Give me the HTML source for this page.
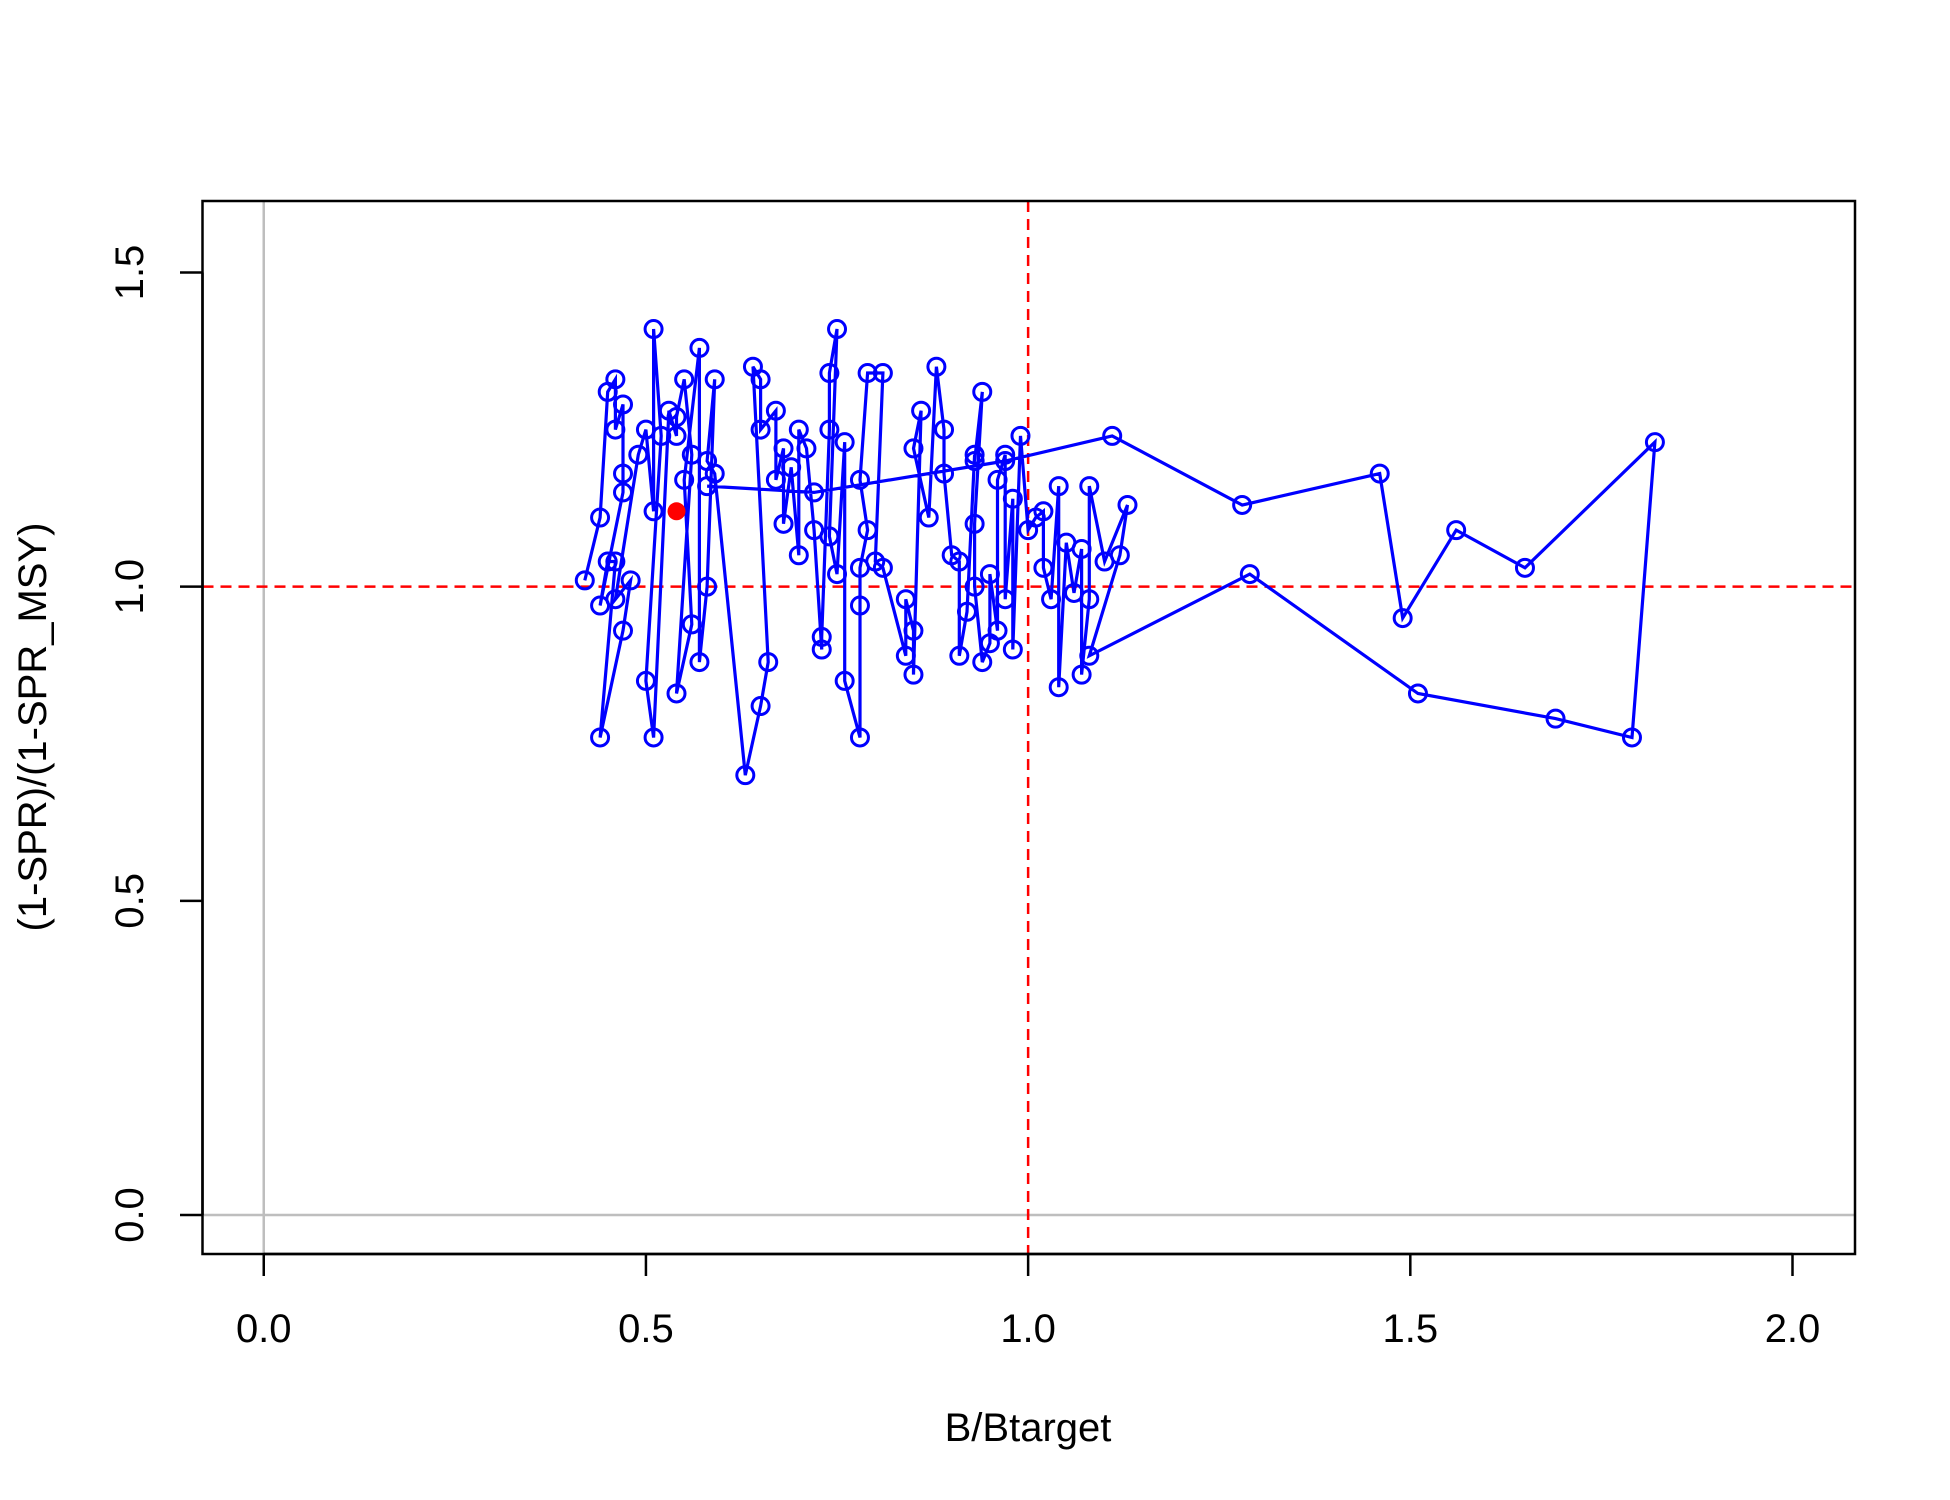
<!DOCTYPE html>
<html><head><meta charset="utf-8">
<style>html,body{margin:0;padding:0;background:#fff}svg{display:block}text{font-family:"Liberation Sans",Arial,sans-serif}</style>
</head><body>
<svg id="chart" width="1950" height="1500" viewBox="0 0 1950 1500" xmlns="http://www.w3.org/2000/svg">
<rect x="0" y="0" width="1950" height="1500" fill="#fff"/>
<g id="grid"></g>
<g id="series"></g>
<rect x="202.5" y="201" width="1652.5" height="1053" fill="none" stroke="#000" stroke-width="2.5"/>
<g id="axes"></g>
<text x="1028" y="1441" font-size="40" text-anchor="middle">B/Btarget</text>
<text x="0" y="0" font-size="40" text-anchor="middle" transform="translate(46,727) rotate(-90)">(1-SPR)/(1-SPR_MSY)</text>
</svg>
<script>
const xTicks=[0,0.5,1,1.5,2];
const xTickLabels=["0.0","0.5","1.0","1.5","2.0"];
const yTicks=[0,0.5,1,1.5];
const yTickLabels=["0.0","0.5","1.0","1.5"];
const bRatio=[0.42,0.44,0.45,0.46,0.46,0.47,0.47,0.47,0.44,0.45,0.46,0.44,0.47,0.48,0.46,0.49,0.50,0.51,0.51,0.52,0.50,0.51,0.53,0.54,0.54,0.55,0.56,0.54,0.56,0.55,0.57,0.57,0.58,0.59,0.58,0.59,0.63,0.65,0.66,0.64,0.65,0.65,0.67,0.67,0.68,0.68,0.69,0.70,0.70,0.71,0.72,0.73,0.73,0.74,0.74,0.75,0.74,0.75,0.76,0.76,0.78,0.78,0.78,0.79,0.78,0.79,0.81,0.80,0.81,0.84,0.84,0.85,0.85,0.86,0.85,0.87,0.88,0.89,0.89,0.90,0.91,0.91,0.92,0.93,0.93,0.94,0.93,0.93,0.94,0.95,0.95,0.96,0.96,0.97,0.97,0.98,0.98,0.99,1.00,1.01,1.02,1.02,1.03,1.04,1.04,1.05,1.06,1.07,1.07,1.08,1.08,1.10,1.13,1.12,1.08,1.29,1.51,1.69,1.79,1.82,1.65,1.56,1.49,1.46,1.28,1.11,0.97,0.72,0.58,0.54];
const sprRatio=[1.01,1.11,1.31,1.33,1.25,1.29,1.18,1.15,0.97,1.04,1.04,0.76,0.93,1.01,0.98,1.21,1.25,1.12,1.41,1.24,0.85,0.76,1.28,1.24,1.27,1.33,1.21,0.83,0.94,1.17,1.38,0.88,1.00,1.33,1.20,1.18,0.70,0.81,0.88,1.35,1.33,1.25,1.28,1.17,1.22,1.10,1.19,1.05,1.25,1.22,1.09,0.90,0.92,1.25,1.34,1.41,1.08,1.02,1.23,0.85,0.76,0.97,1.03,1.09,1.17,1.34,1.34,1.04,1.03,0.89,0.98,0.93,0.86,1.28,1.22,1.11,1.35,1.25,1.18,1.05,1.04,0.89,0.96,1.21,1.20,1.31,1.10,1.00,0.88,0.91,1.02,0.93,1.17,1.21,0.98,1.14,0.90,1.24,1.09,1.11,1.12,1.03,0.98,1.16,0.84,1.07,0.99,1.06,0.86,0.98,1.16,1.04,1.13,1.05,0.89,1.02,0.83,0.79,0.76,1.23,1.03,1.09,0.95,1.18,1.13,1.24,1.20,1.15,1.16,1.12];
const X0=263.75,XS=(1792.5-263.75)/2,Y0=1215,YS=(1215-272.5)/1.5;
const sx=v=>X0+v*XS, sy=v=>Y0-v*YS;
const NS="http://www.w3.org/2000/svg";
function mk(tag,attrs,parent){const e=document.createElementNS(NS,tag);for(const k in attrs)e.setAttribute(k,attrs[k]);parent.appendChild(e);return e;}
const grid=document.getElementById('grid'),series=document.getElementById('series'),axes=document.getElementById('axes');
let l=mk('line',{x1:sx(0),x2:sx(0),y1:201,y2:1254,stroke:'#bebebe','stroke-width':2.5},grid);


l=mk('line',{x1:202.5,x2:1855,y1:sy(0),y2:sy(0),stroke:'#bebebe','stroke-width':2.5},grid);


l=mk('line',{x1:sx(1),x2:sx(1),y1:201,y2:1254,stroke:'#ff0000','stroke-width':2.5,'stroke-dasharray':'11,7'},grid);


l=mk('line',{x1:202.5,x2:1855,y1:sy(1),y2:sy(1),stroke:'#ff0000','stroke-width':2.5,'stroke-dasharray':'11,7'},grid);


const n=bRatio.length;
let d='';for(let i=0;i<n-1;i++)d+=(i?'L':'M')+sx(bRatio[i]).toFixed(1)+','+sy(sprRatio[i]).toFixed(1);
const p=mk('path',{d:d,fill:'none',stroke:'#0000ff','stroke-width':3.2},series);


for(let i=0;i<n-1;i++){const c=mk('circle',{cx:sx(bRatio[i]),cy:sy(sprRatio[i]),r:8.5,fill:'none',stroke:'#0000ff','stroke-width':3},series);

}
const last=mk('circle',{cx:sx(bRatio[n-1]),cy:sy(sprRatio[n-1]),r:9,fill:'#ff0000'},series);


const xl=mk('line',{x1:sx(0),x2:sx(2),y1:1254,y2:1254,stroke:'#000','stroke-width':2.5},axes);


xTicks.forEach((v,i)=>{const t=mk('line',{x1:sx(v),x2:sx(v),y1:1254,y2:1276,stroke:'#000','stroke-width':2.5},axes);


const tx=mk('text',{x:sx(v),y:1342,'font-size':40,'text-anchor':'middle'},axes);tx.textContent=xTickLabels[i];

});
const yl=mk('line',{x1:202.5,x2:202.5,y1:sy(0),y2:sy(1.5),stroke:'#000','stroke-width':2.5},axes);


yTicks.forEach((v,i)=>{const t=mk('line',{x1:180,x2:202.5,y1:sy(v),y2:sy(v),stroke:'#000','stroke-width':2.5},axes);


const tx=mk('text',{x:0,y:0,'font-size':40,'text-anchor':'middle',transform:'translate(143,'+sy(v)+') rotate(-90)'},axes);tx.textContent=yTickLabels[i];

});
</script>
</body></html>
